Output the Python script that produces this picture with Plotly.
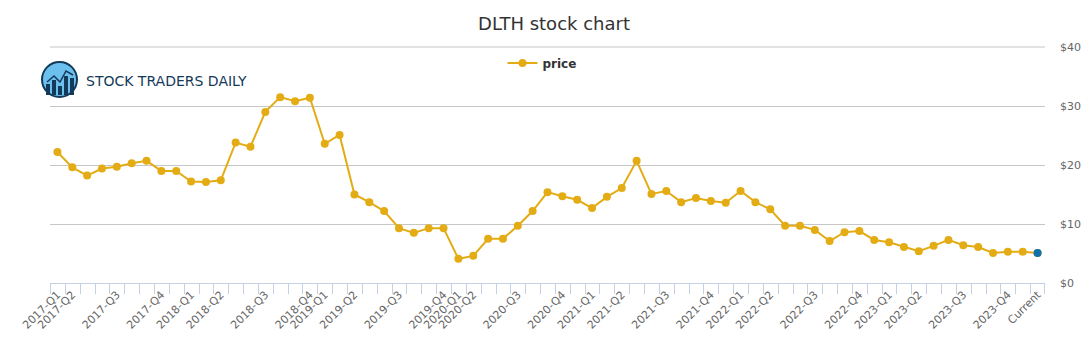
import plotly.graph_objects as go

categories = ["2017-Q1", "2017-Q2", "", "", "2017-Q3", "", "", "2017-Q4", "", "2018-Q1",
              "", "2018-Q2", "", "", "2018-Q3", "", "", "2018-Q4", "2019-Q1", "",
              "2019-Q2", "", "", "2019-Q3", "", "", "2019-Q4", "2020-Q1", "2020-Q2", "",
              "", "2020-Q3", "", "", "2020-Q4", "", "2021-Q1", "", "2021-Q2", "",
              "", "2021-Q3", "", "", "2021-Q4", "", "2022-Q1", "", "2022-Q2", "",
              "", "2022-Q3", "", "", "2022-Q4", "", "2023-Q1", "", "2023-Q2", "",
              "", "2023-Q3", "", "", "2023-Q4", "", "Current"]

prices = [22.2, 19.6, 18.2, 19.4, 19.7, 20.3, 20.7, 19.0, 19.0, 17.2,
          17.1, 17.4, 23.8, 23.1, 29.0, 31.5, 30.8, 31.4, 23.6, 25.1,
          15.0, 13.7, 12.2, 9.3, 8.5, 9.3, 9.3, 4.1, 4.6, 7.5,
          7.5, 9.7, 12.2, 15.4, 14.7, 14.1, 12.7, 14.6, 16.1, 20.7,
          15.1, 15.6, 13.7, 14.4, 13.9, 13.6, 15.6, 13.7, 12.5, 9.7,
          9.7, 9.0, 7.1, 8.6, 8.8, 7.3, 6.9, 6.1, 5.4, 6.3,
          7.3, 6.4, 6.1, 5.1, 5.3, 5.3, 5.1]

y_ticks = [0, 10, 20, 30, 40]

GOLD = "#e4ac14"
BLUE = "#0f6fab"
NAVY = "#143a5a"
AXIS = "#c4d0e6"

n = len(prices)
x = list(range(n))
tickvals = [i for i, c in enumerate(categories) if c]
ticktext = [c for c in categories if c]

fig = go.Figure()
fig.add_trace(go.Scatter(
    x=x, y=prices, name="price", mode="lines+markers",
    line=dict(color=GOLD, width=2),
    marker=dict(color=GOLD, size=8),
    hoverinfo="x+y",
))
fig.add_trace(go.Scatter(
    x=[x[-1]], y=[prices[-1]], mode="markers", showlegend=False,
    marker=dict(color=BLUE, size=8),
))

# plot area in pixels
L, R, T, B = 50, 1045, 47, 283
W, H = 1091, 350

def px(v):
    return (v - L) / (R - L)

def py(v):
    return (B - v) / (B - T)

shapes = []
# category boundary tick marks below the x axis (one per category edge),
# drawn as 1px rects snapped to whole pixels so they stay crisp
for k in range(n + 1):
    p = round(L + (R - L) * k / n)
    if k == n:
        p -= 1
    shapes.append(dict(type="rect", xref="paper", yref="paper",
                       x0=px(p), x1=px(p + 1), y0=py(283), y1=py(294),
                       fillcolor=AXIS, line=dict(width=0), layer="above"))
# top gridline ($40)
shapes.append(dict(type="line", xref="paper", yref="paper", x0=0, x1=1, y0=1, y1=1,
                   line=dict(color="#c6c6c6", width=1), layer="below"))
# logo icon
shapes.append(dict(type="circle", xref="paper", yref="paper",
                   x0=px(42), x1=px(77), y0=py(97), y1=py(62),
                   fillcolor="#6cc0ee", line=dict(color=NAVY, width=2), layer="above"))
for bx0, btop in [(46, 84), (52, 80), (58, 86), (64, 76), (70, 78)]:
    shapes.append(dict(type="rect", xref="paper", yref="paper",
                       x0=px(bx0), x1=px(bx0 + 4), y0=py(95), y1=py(btop),
                       fillcolor=NAVY, line=dict(width=0), layer="above"))
shapes.append(dict(type="path", xref="paper", yref="paper",
                   path=f"M {px(47)} {py(82)} L {px(54)} {py(76)} L {px(60)} {py(82)} L {px(66)} {py(71)} L {px(73)} {py(75)}",
                   line=dict(color=NAVY, width=1.5), layer="above"))

fig.update_layout(
    width=W, height=H,
    margin=dict(l=L, r=W - R, t=T, b=H - B, autoexpand=False),
    paper_bgcolor="white", plot_bgcolor="white",
    font=dict(family="DejaVu Sans, sans-serif", color="#666666", size=11),
    title=dict(text="DLTH stock chart", x=554 / W, xref="container", xanchor="center",
               y=1 - 24 / H, yref="container", yanchor="middle",
               font=dict(size=18, color="#333333", family="DejaVu Sans, sans-serif")),
    showlegend=True,
    legend=dict(orientation="h", x=px(542), xanchor="center", y=py(63), yanchor="middle",
                font=dict(size=12, color="#333333", family="DejaVu Sans, sans-serif", weight="bold"),
                bgcolor="rgba(0,0,0,0)", itemwidth=30),
    xaxis=dict(range=[-0.5, n - 0.5], tickmode="array", tickvals=tickvals,
               ticktext=ticktext, tickangle=-45, ticks="", showgrid=False, zeroline=False,
               showline=True, linecolor=AXIS, linewidth=1,
               tickfont=dict(size=11, color="#666666"),
               fixedrange=True),
    yaxis=dict(range=[0, 40], side="right", tickmode="array", tickvals=y_ticks,
               ticktext=[f"${v}" for v in y_ticks], showgrid=True, gridcolor="#c6c6c6",
               gridwidth=1, zeroline=False, showline=False, ticks="",
               ticklabelstandoff=14, tickfont=dict(size=11, color="#666666"),
               fixedrange=True),
    shapes=shapes,
    annotations=[dict(text="STOCK TRADERS DAILY", xref="paper", yref="paper",
                      x=px(84), y=py(81), xanchor="left", yanchor="middle", showarrow=False,
                      font=dict(family="DejaVu Sans, sans-serif",
                                size=14, color=NAVY))],
)

fig.write_html("out.html")
